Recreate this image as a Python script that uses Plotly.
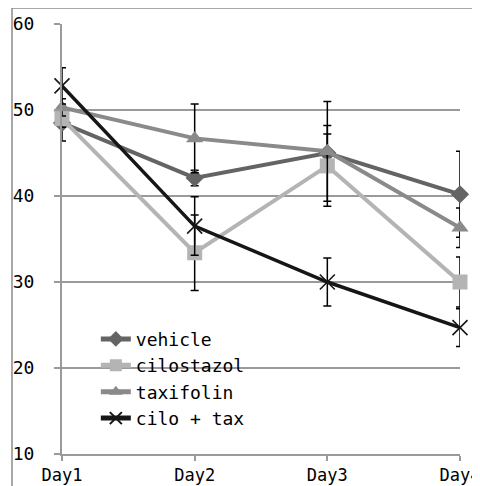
import plotly.graph_objects as go

days = ["Day1", "Day2", "Day3", "Day4"]
series_names = ["vehicle", "cilostazol", "taxifolin", "cilo + tax"]
vehicle = [48.5, 42.1, 45.0, 40.2]
cilostazol = [49.0, 33.4, 43.5, 30.0]
taxifolin = [50.3, 46.7, 45.2, 36.3]
cilo_tax = [52.8, 36.5, 30.0, 24.7]
vehicle_err = [2.1, 0.9, 2.2, 5.0]
cilostazol_err = [1.0, 4.4, 4.7, 2.9]
taxifolin_err = [1.0, 4.0, 5.8, 2.3]
cilo_tax_err = [2.1, 3.4, 2.8, 2.2]
y_ticks = [10, 20, 30, 40, 50, 60]

values = [vehicle, cilostazol, taxifolin, cilo_tax]
errors = [vehicle_err, cilostazol_err, taxifolin_err, cilo_tax_err]
colors = ["#646464", "#b4b4b4", "#8a8a8a", "#161616"]
symbols = ["diamond", "square", "triangle-up", "x-thin"]
sizes = [14, 15, 15, 15]
widths = [4, 4, 4, 3.5]

fig = go.Figure()
for name, vals, err, c, s, sz, w in zip(series_names, values, errors, colors, symbols, sizes, widths):
    marker = dict(symbol=s, size=sz, color=c)
    if s == "x-thin":
        marker["line"] = dict(color=c, width=1.6)
    else:
        marker["line"] = dict(width=0)
    fig.add_trace(go.Scatter(
        x=days, y=vals, name=name, mode="lines+markers",
        line=dict(color=c, width=w),
        marker=marker,
        cliponaxis=False,
        error_y=dict(type="data", array=err, visible=True, color="#000000",
                     thickness=1.5, width=4),
    ))

grid_c = "#9a9a9a"
fig.update_layout(
    width=464, height=478,
    margin=dict(l=54, r=12, t=16, b=32),
    paper_bgcolor="white", plot_bgcolor="white",
    font=dict(family="DejaVu Sans Mono", size=16, color="#000000"),
    showlegend=True,
    legend=dict(x=0.085, y=0.31, xanchor="left", yanchor="top",
                bgcolor="rgba(255,255,255,0)", borderwidth=0,
                font=dict(size=18, family="DejaVu Sans Mono"),
                tracegroupgap=0, itemsizing="constant"),
    xaxis=dict(type="category", range=[0, 3], showgrid=False,
               showline=True, linecolor=grid_c, linewidth=2,
               ticks="outside", ticklen=5, tickcolor=grid_c, tickwidth=2,
               tickfont=dict(size=17), ticklabelstandoff=0,
               zeroline=False, automargin=False),
    yaxis=dict(range=[10, 60], tickvals=y_ticks, showgrid=True,
               gridcolor=grid_c, gridwidth=1.5,
               showline=True, linecolor=grid_c, linewidth=2,
               ticks="outside", ticklen=6, tickcolor=grid_c, tickwidth=1.5,
               tickfont=dict(size=18), ticklabelstandoff=16,
               zeroline=False, automargin=False),
)

# legend white backing (covers gridline like the original legend box)
fig.add_shape(type="rect", xref="paper", yref="paper",
              x0=(72 - 62) / 398, x1=(270 - 62) / 398,
              y0=(454 - 438) / 430, y1=(454 - 322) / 430,
              fillcolor="white", line=dict(width=0), layer="between")
# outer chart border
fig.add_shape(type="rect", xref="paper", yref="paper",
              x0=(12 - 62) / 398, x1=(500 - 62) / 398,
              y0=(454 - 520) / 430, y1=(454 - 8) / 430,
              fillcolor="rgba(0,0,0,0)", line=dict(color="#8c8c8c", width=1.5),
              layer="above")

fig.write_html("out.html")
